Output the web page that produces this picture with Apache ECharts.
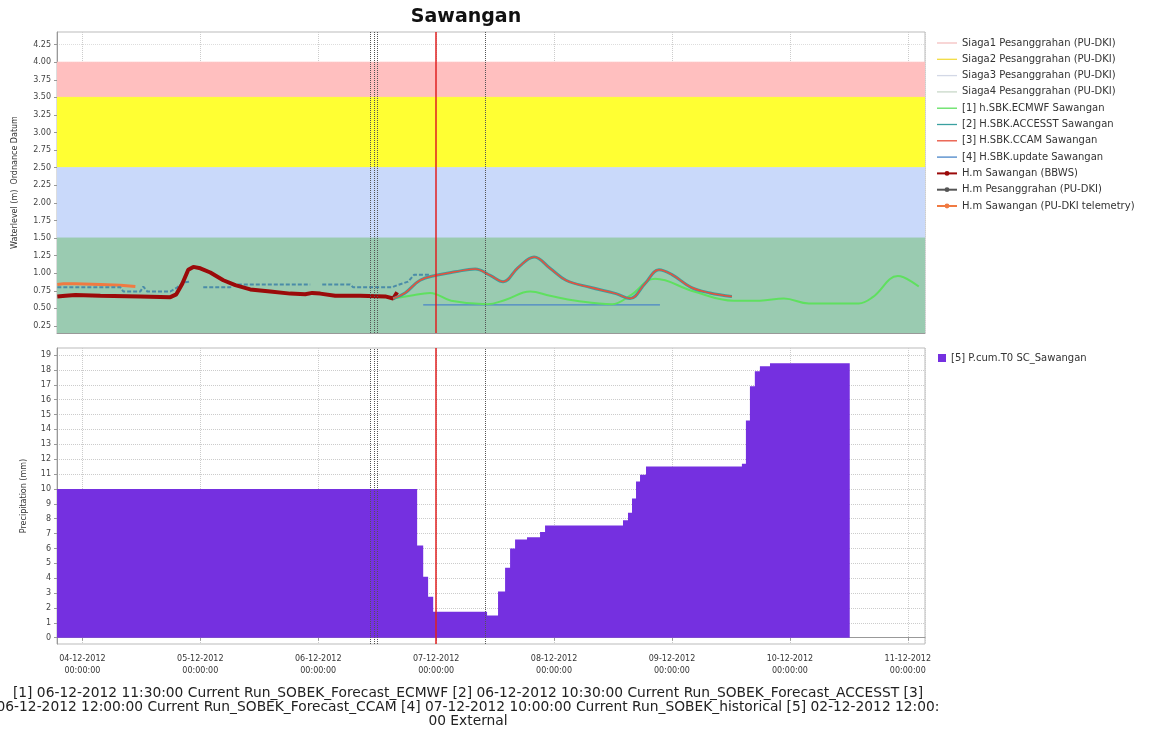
<!DOCTYPE html>
<html>
<head>
<meta charset="utf-8">
<title>Sawangan</title>
<script src="https://cdn.jsdelivr.net/npm/echarts@6/dist/echarts.min.js"></script>
<style>
  html, body { margin: 0; padding: 0; background: #fff; }
  #main { width: 1159px; height: 729px; }
</style>
</head>
<body>
<div id="main"></div>
<script>
// all times are December 2012, written as 'DD HH:mm'
const xStart = '03 18:50';
const xEnd = '11 03:30';

// tick labels
const levelTicks = [0.25, 0.5, 0.75, 1.0, 1.25, 1.5, 1.75, 2.0, 2.25, 2.5, 2.75, 3.0, 3.25, 3.5, 3.75, 4.0, 4.25];
const precipTicks = [0, 1, 2, 3, 4, 5, 6, 7, 8, 9, 10, 11, 12, 13, 14, 15, 16, 17, 18, 19];

// warning levels (Siaga)
const siagaNames = ['Siaga1 Pesanggrahan (PU-DKI)', 'Siaga2 Pesanggrahan (PU-DKI)', 'Siaga3 Pesanggrahan (PU-DKI)', 'Siaga4 Pesanggrahan (PU-DKI)'];
const siagaUpper = [4.0, 3.5, 2.5, 1.5];
const siagaLower = [3.5, 2.5, 1.5, 0.15];

// forecast run times and "now"
const runTimes = ['06 10:30', '06 11:30', '06 12:00', '07 10:00'];
const nowTime = '07 00:00';

// H.m Sawangan (BBWS)
const bbwsTime = ['03 18:54', '03 20:33', '03 22:35', '04 03:40', '04 11:48', '04 17:54', '04 19:07', '04 20:20', '04 21:33', '04 22:35',
  '05 00:00', '05 02:02', '05 04:41', '05 07:07', '05 10:10', '05 14:14', '05 18:18', '05 21:21', '05 22:47', '06 00:24',
  '06 03:27', '06 08:32', '06 13:38', '06 15:16', '06 16:04'];
const bbwsLevel = [0.67, 0.68, 0.69, 0.68, 0.67, 0.66, 0.70, 0.85, 1.05, 1.09,
  1.07, 1.01, 0.90, 0.83, 0.77, 0.74, 0.71, 0.70, 0.72, 0.71,
  0.68, 0.68, 0.67, 0.64, 0.73];

// H.m Pesanggrahan (PU-DKI), null = gap
const pesTime = ['03 18:54', '04 07:44', '04 08:20', '04 11:48', '04 12:24', '04 13:13', '04 17:54', '04 19:19', '04 20:33', '04 21:58',
  '04 23:15', '05 00:36', '05 06:06', '05 06:30', '05 22:22', '05 23:30', '06 00:49', '06 06:30', '06 07:07', '06 15:03',
  '06 16:04', '06 18:18', '06 19:32', '06 22:47'];
const pesLevel = [0.80, 0.80, 0.74, 0.74, 0.81, 0.74, 0.74, 0.80, 0.87, 0.88,
  null, 0.80, 0.80, 0.84, 0.84, null, 0.84, 0.84, 0.80, 0.80,
  0.83, 0.88, 0.98, 0.98];

// H.m Sawangan (PU-DKI telemetry)
const telTime = ['03 18:54', '03 20:08', '03 22:35', '04 03:40', '04 07:44', '04 10:47'];
const telLevel = [0.84, 0.85, 0.85, 0.84, 0.83, 0.81];

// [1] ECMWF
const ecmwfTime = ['06 15:16', '06 18:43', '06 22:47', '07 03:03', '07 10:22', '07 14:02', '07 19:08', '07 23:11', '08 04:28', '08 11:48',
  '08 15:27', '08 20:33', '09 04:28', '09 12:36', '09 17:54', '09 22:47', '10 03:52', '10 14:02', '10 16:52', '10 21:58', '11 02:14'];
const ecmwfLevel = [0.64, 0.68, 0.72, 0.61, 0.56, 0.62, 0.74, 0.68, 0.61, 0.56,
  0.68, 0.92, 0.74, 0.61, 0.61, 0.64, 0.57, 0.57, 0.66, 0.96, 0.81];

// [2] ACCESST and [3] CCAM (almost on top of each other)
const ccamTime = ['06 15:16', '06 17:41', '06 20:44', '07 00:00', '07 03:52', '07 07:56', '07 11:00', '07 13:38', '07 16:41', '07 19:57',
  '07 23:11', '08 02:26', '08 07:19', '08 12:36', '08 15:27', '08 18:30', '08 21:21', '09 00:00', '09 03:52', '09 07:44', '09 12:12'];
const ccamLevel = [0.64, 0.72, 0.90, 0.97, 1.02, 1.06, 0.97, 0.88, 1.08, 1.23,
  1.07, 0.90, 0.80, 0.71, 0.64, 0.85, 1.05, 0.98, 0.80, 0.72, 0.67];
const accesstLevel = [0.64, 0.72, 0.90, 0.97, 1.02, 1.06, 0.97, 0.88, 1.08, 1.23,
  1.07, 0.90, 0.80, 0.71, 0.64, 0.85, 1.05, 0.98, 0.80, 0.72, 0.67];

// [4] update
const updateTime = ['06 21:22', '08 21:33'];
const updateLevel = [0.55, 0.55];

// [5] cumulative precipitation
const precipTime = ['03 18:50', '06 20:08', '06 21:22', '06 22:22', '06 23:24', '07 10:22', '07 12:36', '07 14:02', '07 15:03', '07 16:04',
  '07 18:30', '07 21:09', '07 22:10', '08 14:02', '08 15:03', '08 15:52', '08 16:41', '08 17:30', '08 18:43', '09 14:14',
  '09 15:03', '09 15:52', '09 16:52', '09 17:54', '09 19:57', '10 12:11'];
const precipValue = [10, 6.2, 4.1, 2.75, 1.75, 1.5, 3.1, 4.7, 6.0, 6.6,
  6.75, 7.1, 7.55, 7.9, 8.4, 9.35, 10.5, 10.95, 11.5, 11.7,
  14.6, 16.9, 17.9, 18.25, 18.45, 18.45];

const footer = '[1] 06-12-2012 11:30:00 Current Run_SOBEK_Forecast_ECMWF [2] 06-12-2012 10:30:00 Current Run_SOBEK_Forecast_ACCESST [3]\n' +
  '06-12-2012 12:00:00 Current Run_SOBEK_Forecast_CCAM [4] 07-12-2012 10:00:00 Current Run_SOBEK_historical [5] 02-12-2012 12:00:\n' +
  '00 External';

function ts(s) {
  const d = s.split(' ')[0], hm = s.split(' ')[1].split(':');
  return new Date(2012, 11, +d, +hm[0], +hm[1]).getTime();
}
function zip(times, values) {
  return times.map((s, i) => [ts(s), values[i] == null ? '-' : values[i]]);
}
function pad(n) { return n < 10 ? '0' + n : '' + n; }

const bandColors = ['#ffbfbf', '#ffff33', '#c9d9fa', '#9acbb1'];
const siagaLineColors = ['#f4c0c0', '#f2dc40', '#d3d8e6', '#c8d8c8'];

const vLines = runTimes.map(s => ({ xAxis: ts(s), lineStyle: { color: '#555', type: 'dotted', width: 1 } }))
  .concat([{ xAxis: ts(nowTime), lineStyle: { color: '#e02020', type: 'solid', width: 1.5 } }]);

const labelFont = 'DejaVu Sans';

const siagaSeries = siagaNames.map((name, i) => ({
  name: name,
  type: 'line',
  xAxisIndex: 0, yAxisIndex: 0,
  symbol: 'none',
  silent: true,
  z: 1,
  color: siagaLineColors[i],
  lineStyle: { width: 1, color: bandColors[i] },
  data: [[ts(xStart), siagaUpper[i]], [ts(xEnd), siagaUpper[i]]],
  markArea: {
    silent: true,
    itemStyle: { color: bandColors[i], opacity: 1 },
    data: [[{ yAxis: siagaUpper[i] }, { yAxis: siagaLower[i] }]]
  }
}));

function levelLine(name, data, color, width, extra) {
  return Object.assign({
    name: name,
    type: 'line',
    xAxisIndex: 0, yAxisIndex: 0,
    symbol: 'none',
    z: 3,
    color: color,
    lineStyle: { color: color, width: width },
    data: data
  }, extra || {});
}

// legend entries drawn as a plain thin line, no marker
const lineIcon = 'path://M0,0H20V1.3H0Z';
const plainLegend = siagaNames.concat(['[1] h.SBK.ECMWF Sawangan', '[2] H.SBK.ACCESST Sawangan', '[3] H.SBK.CCAM Sawangan', '[4] H.SBK.update Sawangan'])
  .map(n => ({ name: n, icon: lineIcon }));

const chart = echarts.init(document.getElementById('main'));
chart.setOption({
  animation: false,
  backgroundColor: '#fff',
  textStyle: { fontFamily: labelFont },
  grid: [
    { left: 57, top: 32, width: 868, height: 301, show: true, borderColor: '#bbb', backgroundColor: '#fff' },
    { left: 57, top: 348, width: 868, height: 296, show: true, borderColor: '#bbb', backgroundColor: '#fff' }
  ],
  legend: [{
    orient: 'vertical', left: 931, top: 33,
    itemWidth: 20, itemHeight: 6, itemGap: 6.3,
    textStyle: { fontFamily: labelFont, fontSize: 10, color: '#333' },
    data: plainLegend.concat([
      'H.m Sawangan (BBWS)',
      { name: 'H.m Pesanggrahan (PU-DKI)', itemStyle: { color: '#555' }, lineStyle: { color: '#555', type: 'solid' } },
      'H.m Sawangan (PU-DKI telemetry)'
    ])
  }, {
    orient: 'vertical', left: 933, top: 348,
    itemWidth: 8, itemHeight: 8,
    textStyle: { fontFamily: labelFont, fontSize: 10, color: '#333' },
    data: [{ name: '[5] P.cum.T0 SC_Sawangan', icon: 'rect' }]
  }],
  graphic: [{
    type: 'text',
    style: { text: 'Sawangan', x: 466, y: 17, textAlign: 'center', textVerticalAlign: 'middle', font: 'bold 19px "DejaVu Sans"', fill: '#111' }
  }, {
    type: 'text',
    style: { text: footer, x: 468, y: 686, textAlign: 'center', textVerticalAlign: 'top', font: '13.8px "DejaVu Sans"', lineHeight: 14, fill: '#222' }
  }],
  xAxis: [0, 1].map(i => ({
    type: 'time',
    gridIndex: i,
    min: ts(xStart), max: ts(xEnd),
    minInterval: 86400000, maxInterval: 86400000,
    axisLine: { show: true, lineStyle: { color: '#999' } },
    axisTick: { show: i === 1, length: 3, lineStyle: { color: '#999' } },
    splitLine: { show: true, lineStyle: { color: '#ccc', type: 'dotted' } },
    axisLabel: {
      show: i === 1, fontSize: 8, color: '#333', lineHeight: 12, margin: 9,
      formatter: v => {
        const d = new Date(v);
        return pad(d.getDate()) + '-' + pad(d.getMonth() + 1) + '-' + d.getFullYear() + '\n' +
          pad(d.getHours()) + ':' + pad(d.getMinutes()) + ':' + pad(d.getSeconds());
      }
    }
  })),
  yAxis: [{
    type: 'value', gridIndex: 0, min: 0.15, max: 4.43,
    name: 'Waterlevel (m)  Ordnance Datum', nameLocation: 'middle', nameGap: 38,
    nameTextStyle: { fontSize: 8, color: '#333' },
    axisLine: { show: true, lineStyle: { color: '#999' } },
    axisTick: { show: true, length: 3, customValues: levelTicks, lineStyle: { color: '#999' } },
    axisLabel: { fontSize: 8, color: '#444', margin: 6, customValues: levelTicks, formatter: v => v.toFixed(2) },
    splitLine: { show: true, lineStyle: { color: '#ddd', type: 'dotted' } }
  }, {
    type: 'value', gridIndex: 1, min: -0.42, max: 19.47,
    name: 'Precipitation (mm)', nameLocation: 'middle', nameGap: 29,
    nameTextStyle: { fontSize: 8, color: '#333' },
    axisLine: { show: true, lineStyle: { color: '#999' } },
    axisTick: { show: true, length: 3, customValues: precipTicks, lineStyle: { color: '#999' } },
    axisLabel: { fontSize: 8, color: '#444', margin: 6, customValues: precipTicks },
    splitLine: { show: true, lineStyle: { color: '#ccc', type: 'dotted' } }
  }],
  series: siagaSeries.concat([
    levelLine('H.m Sawangan (PU-DKI telemetry)', zip(telTime, telLevel), '#f07a42', 3, { symbol: 'circle', symbolSize: 4, showSymbol: false }),
    levelLine('H.m Pesanggrahan (PU-DKI)', zip(pesTime, pesLevel), '#4a8ca8', 2,
      { symbol: 'circle', symbolSize: 4, showSymbol: false, lineStyle: { color: '#4a8ca8', width: 2, type: [4, 2] } }),
    levelLine('H.m Sawangan (BBWS)', zip(bbwsTime, bbwsLevel), '#9b0a0a', 4, { symbol: 'circle', symbolSize: 4, showSymbol: false }),
    levelLine('[4] H.SBK.update Sawangan', zip(updateTime, updateLevel), '#4a86c8', 1.2),
    levelLine('[1] h.SBK.ECMWF Sawangan', zip(ecmwfTime, ecmwfLevel), '#5fe05f', 2, { smooth: 0.4 }),
    levelLine('[2] H.SBK.ACCESST Sawangan', zip(ccamTime, accesstLevel), '#3aa0a0', 3, { smooth: 0.4 }),
    levelLine('[3] H.SBK.CCAM Sawangan', zip(ccamTime, ccamLevel), '#e8503c', 1.5, {
      smooth: 0.4,
      markLine: { silent: true, symbol: ['none', 'none'], label: { show: false }, data: vLines }
    }),
    {
      name: '[5] P.cum.T0 SC_Sawangan',
      type: 'line',
      xAxisIndex: 1, yAxisIndex: 1,
      step: 'end',
      symbol: 'none',
      color: '#7530e0',
      lineStyle: { width: 0 },
      areaStyle: { color: '#7530e0', opacity: 1 },
      data: zip(precipTime, precipValue),
      markLine: { silent: true, symbol: ['none', 'none'], label: { show: false }, data: vLines }
    }
  ])
});
</script>
</body>
</html>
